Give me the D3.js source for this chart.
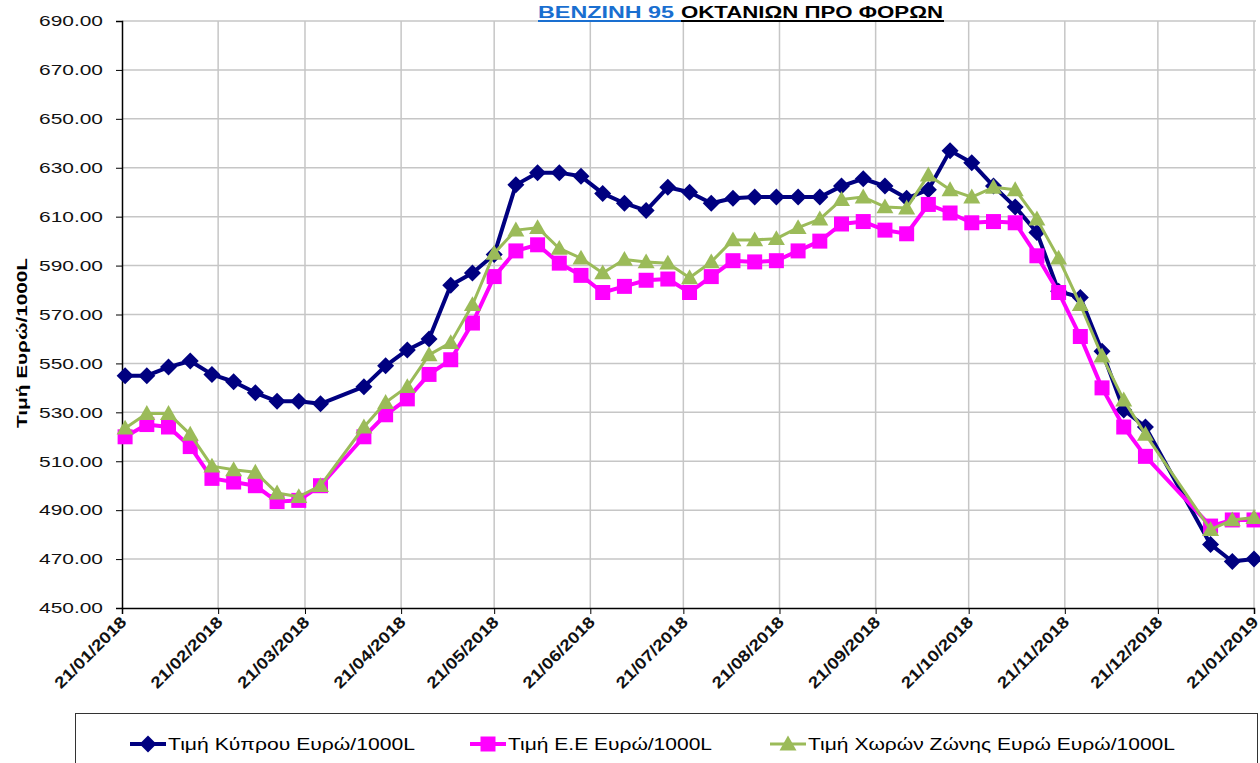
<!DOCTYPE html>
<html>
<head>
<meta charset="utf-8">
<script src="https://cdn.jsdelivr.net/npm/d3@7"></script>
<style>
	body { margin: 0; background: #fff; }
	svg { display: block; font-family: "Liberation Sans", Arial, sans-serif; }
</style>
</head>
<body>
<svg id="chart" width="1260" height="763"></svg>
<script>
/* jshint esversion: 6 */

// weekly observation dates (Mondays)
var dates = [
	"2018-01-22", "2018-01-29",
	"2018-02-05", "2018-02-12", "2018-02-19", "2018-02-26",
	"2018-03-05", "2018-03-12", "2018-03-19", "2018-03-26",
	"2018-04-09", "2018-04-16", "2018-04-23", "2018-04-30",
	"2018-05-07", "2018-05-14", "2018-05-21", "2018-05-28",
	"2018-06-04", "2018-06-11", "2018-06-18", "2018-06-25",
	"2018-07-02", "2018-07-09", "2018-07-16", "2018-07-23", "2018-07-30",
	"2018-08-06", "2018-08-13", "2018-08-20", "2018-08-27",
	"2018-09-03", "2018-09-10", "2018-09-17", "2018-09-24",
	"2018-10-01", "2018-10-08", "2018-10-15", "2018-10-22", "2018-10-29",
	"2018-11-05", "2018-11-12", "2018-11-19", "2018-11-26",
	"2018-12-03", "2018-12-10", "2018-12-17",
	"2019-01-07", "2019-01-14", "2019-01-21"
];

var cyprus = [
	545, 545,
	548.5, 551, 545.5, 542.5,
	538, 534.5, 534.5, 533.5,
	540.5, 549, 555.5, 560,
	582, 587, 594.5, 623,
	628, 628, 626.5, 619.5,
	615.5, 612.5, 622, 620, 615.5,
	617.5, 618, 618, 618,
	618, 622.5, 625.5, 622.5,
	617.5, 621, 637, 632, 622.5,
	614, 603.5, 579.5, 577,
	555, 531, 524,
	476, 469, 470
];

var eu = [
	520, 525,
	524, 516, 503, 501.5,
	500, 493.5, 494, 500,
	520, 529, 535.5, 545.5,
	551.5, 566.5, 585.5, 596,
	598.5, 591, 586, 579,
	581.5, 584, 584.5, 579, 585.5,
	592, 591.5, 592, 596,
	600, 607, 608, 604.5,
	603, 615, 611.5, 607.5, 608,
	607.5, 594, 579, 561,
	540, 524, 512,
	483.5, 486, 486
];

var euroZone = [
	523.5, 529.5,
	529.5, 521, 508, 506.5,
	505.5, 497, 495.5, 500,
	524, 534, 540.5, 553.5,
	558.5, 574, 595, 604.5,
	605.5, 597, 593, 587,
	592.5, 591.5, 591, 585, 591.5,
	600.5, 600.5, 601, 605.5,
	609, 617, 618, 614,
	613.5, 627, 621, 618, 622,
	621, 609, 593, 574,
	553, 535, 521,
	482, 486, 487
];

var seriesNames = ["Τιμή Κύπρου Ευρώ/1000L", "Τιμή Ε.Ε Ευρώ/1000L", "Τιμή Χωρών Ζώνης Ευρώ Ευρώ/1000L"];
var yTicks = [450, 470, 490, 510, 530, 550, 570, 590, 610, 630, 650, 670, 690];
var xTicks = [
	"2018-01-21", "2018-02-21", "2018-03-21", "2018-04-21", "2018-05-21", "2018-06-21", "2018-07-21",
	"2018-08-21", "2018-09-21", "2018-10-21", "2018-11-21", "2018-12-21", "2019-01-21"
];

var parse = d3.timeParse("%Y-%m-%d"),
		fmt = d3.timeFormat("%d/%m/%Y");

var plot = {left: 122, right: 1254, top: 21, bottom: 608};

var x = d3.scaleTime()
	.domain([parse("2018-01-21"), parse("2019-01-21")])
	.range([plot.left, plot.right]);

var y = d3.scaleLinear()
	.domain([450, 690])
	.range([plot.bottom, plot.top]);

var svg = d3.select("#chart");

// grid
svg.append("g").selectAll("line").data(yTicks.slice(1)).enter().append("line")
	.attr("x1", plot.left).attr("x2", plot.right + 2)
	.attr("y1", d => y(d)).attr("y2", d => y(d))
	.attr("stroke", "#c6c6c6").attr("stroke-width", 1.5);

svg.append("g").selectAll("line").data(xTicks.slice(1)).enter().append("line")
	.attr("x1", d => x(parse(d))).attr("x2", d => x(parse(d)))
	.attr("y1", plot.top).attr("y2", plot.bottom)
	.attr("stroke", "#c6c6c6").attr("stroke-width", 1.5);

// y axis
var yAxis = svg.append("g")
	.attr("transform", "translate(" + plot.left + ",0)")
	.call(d3.axisLeft(y).tickValues(yTicks).tickSize(6).tickPadding(13).tickFormat(d3.format(".2f")));
yAxis.select(".domain").attr("stroke", "#000").attr("stroke-width", 1.5);
yAxis.selectAll(".tick line").attr("stroke", "#000");
yAxis.selectAll("text")
	.attr("font-size", 15)
	.attr("fill", "#111")
	.attr("font-family", "'Liberation Sans', Arial, sans-serif")
	.attr("textLength", 64)
	.attr("lengthAdjust", "spacingAndGlyphs");

// x axis
var xAxis = svg.append("g")
	.attr("transform", "translate(0," + plot.bottom + ")")
	.call(d3.axisBottom(x).tickValues(xTicks.map(parse)).tickSize(6).tickFormat(fmt));
xAxis.select(".domain").attr("stroke", "#000").attr("stroke-width", 1.5);
xAxis.selectAll(".tick line").attr("stroke", "#000");
xAxis.selectAll("text")
	.attr("font-size", 16)
	.attr("font-weight", "bold")
	.attr("fill", "#111")
	.attr("font-family", "'Liberation Sans', Arial, sans-serif")
	.attr("text-anchor", "end")
	.attr("dy", null)
	.attr("y", 0)
	.attr("transform", "translate(5,15) rotate(-45)")
	.attr("textLength", 94)
	.attr("lengthAdjust", "spacingAndGlyphs");

// y axis title
svg.append("text")
	.attr("transform", "translate(27,343) rotate(-90)")
	.attr("text-anchor", "middle")
	.attr("font-size", 15)
	.attr("font-weight", "bold")
	.attr("textLength", 170)
	.attr("lengthAdjust", "spacingAndGlyphs")
	.text("Τιμή Ευρώ/1000L");

// title
svg.append("text")
	.attr("x", 538).attr("y", 18)
	.attr("font-size", 17)
	.attr("font-weight", "bold")
	.attr("fill", "#1a6fd0")
	.attr("textLength", 136)
	.attr("lengthAdjust", "spacingAndGlyphs")
	.text("ΒΕΝΖΙΝΗ 95");
svg.append("text")
	.attr("x", 681).attr("y", 18)
	.attr("font-size", 17)
	.attr("font-weight", "bold")
	.attr("fill", "#000")
	.attr("textLength", 262)
	.attr("lengthAdjust", "spacingAndGlyphs")
	.text("ΟΚΤΑΝΙΩΝ ΠΡΟ ΦΟΡΩΝ");
svg.append("line").attr("x1", 538).attr("x2", 681).attr("y1", 21).attr("y2", 21)
	.attr("stroke", "#1a6fd0").attr("stroke-width", 2);
svg.append("line").attr("x1", 681).attr("x2", 944).attr("y1", 21).attr("y2", 21)
	.attr("stroke", "#000").attr("stroke-width", 2);

// markers
function diamond(s) { return "M0," + (-s) + "L" + s + ",0L0," + s + "L" + (-s) + ",0Z"; }
function square(s) { return "M" + (-s) + "," + (-s) + "h" + (2 * s) + "v" + (2 * s) + "h" + (-2 * s) + "Z"; }
function triangle(s) { return "M0," + (-s) + "L" + s + "," + (s * 0.75) + "L" + (-s) + "," + (s * 0.75) + "Z"; }

var series = [
	{name: seriesNames[0], values: cyprus, color: "#000080", width: 4, marker: diamond(8.5)},
	{name: seriesNames[1], values: eu, color: "#ff00ff", width: 4, marker: square(7.5)},
	{name: seriesNames[2], values: euroZone, color: "#9bbb59", width: 3, marker: triangle(8.5)}
];

var line = d3.line()
	.x(d => x(d.date))
	.y(d => y(d.value));

series.forEach(function(s) {
	var pts = dates.map((d, i) => ({date: parse(d), value: s.values[i]}));
	var g = svg.append("g");
	g.append("path")
		.datum(pts)
		.attr("d", line)
		.attr("fill", "none")
		.attr("stroke", s.color)
		.attr("stroke-width", s.width)
		.attr("stroke-linejoin", "round");
	g.selectAll("path.mk").data(pts).enter().append("path")
		.attr("class", "mk")
		.attr("transform", d => "translate(" + x(d.date) + "," + y(d.value) + ")")
		.attr("d", s.marker)
		.attr("fill", s.color);
});

// legend
var legend = svg.append("g");
legend.append("rect")
	.attr("x", 75.5).attr("y", 713.5)
	.attr("width", 1182).attr("height", 70)
	.attr("fill", "#fff")
	.attr("stroke", "#333").attr("stroke-width", 1);

var legendPos = [
	{x: 130, len: 247},
	{x: 470, len: 204},
	{x: 770, len: 367}
];

series.forEach(function(s, i) {
	var lg = legend.append("g").attr("transform", "translate(" + legendPos[i].x + ",744)");
	lg.append("line")
		.attr("x1", 0).attr("x2", 36)
		.attr("stroke", s.color).attr("stroke-width", s.width);
	lg.append("path")
		.attr("transform", "translate(18,0)")
		.attr("d", s.marker)
		.attr("fill", s.color);
	lg.append("text")
		.attr("x", 38).attr("y", 6)
		.attr("font-size", 16)
		.attr("textLength", legendPos[i].len)
		.attr("lengthAdjust", "spacingAndGlyphs")
		.text(s.name);
});
</script>
</body>
</html>
